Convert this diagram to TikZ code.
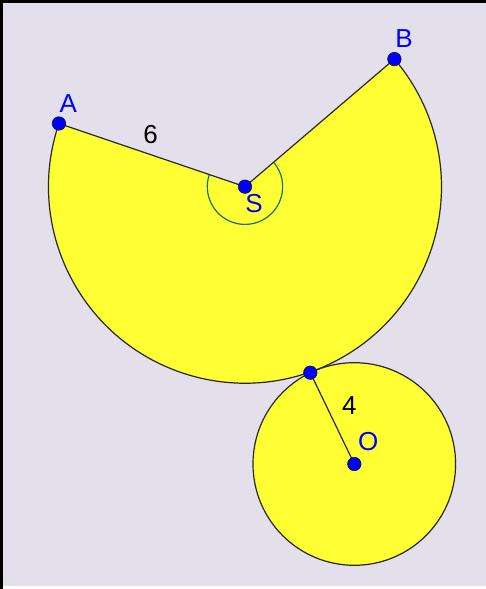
\documentclass[tikz,border=0pt]{standalone}
\usepackage{fontspec}
\setmainfont{Liberation Sans}
\usetikzlibrary{calc}
\newcommand{\lblsize}{\fontsize{26}{28}\selectfont}
\begin{document}
\begin{tikzpicture}[x=1pt,y=1pt,
  ptdot/.style={circle,fill={rgb,255:red,0;green,0;blue,255},draw={rgb,255:red,20;green,20;blue,60},line width=0.6pt,minimum size=13.5pt,inner sep=0pt},
  ptlabel/.style={text={rgb,255:red,0;green,0;blue,255},inner sep=0pt},
  lenlabel/.style={text=black,inner sep=0pt},
  edge/.style={draw={rgb,255:red,40;green,40;blue,40},line width=1.2pt},
  anglemark/.style={draw={rgb,255:red,20;green,115;blue,100},line width=1.2pt}]
\definecolor{bg}{RGB}{227,223,235}
\definecolor{yel}{RGB}{255,255,51}
\useasboundingbox (0,0) rectangle (486,589);
\fill[white] (0,0) rectangle (486,589);
\fill[bg] (0,3) rectangle (486,586);
\fill[black] (0,0) rectangle (3,589);
\fill[black] (0,586) rectangle (486,589);
% points
\coordinate (S) at (245,402.3);
\coordinate (A) at ($(S)+(161.24:196.5)$);
\coordinate (B) at ($(S)+(40.5:196.5)$);
\coordinate (O) at (354.3,125);
\coordinate (T) at (310.3,216.3);
% fills
\fill[yel] (S) -- (A) arc[start angle=161.24,end angle=400.5,radius=196.5] -- cycle;
\fill[yel] (O) circle[radius=101.3];
% angle mark
\draw[anglemark] ($(S)+(161.24:37.7)$) arc[start angle=161.24,end angle=400.5,radius=37.7];
% outlines
\draw[edge] (S) -- (A) arc[start angle=161.24,end angle=400.5,radius=196.5] -- (S);
\draw[edge] (O) circle[radius=101.3];
\draw[edge] (T) -- (O);
% dots
\node[ptdot] (nS) at (S) {};
\node[ptdot] (nA) at (A) {};
\node[ptdot] (nB) at (B) {};
\node[ptdot] (nO) at (O) {};
\node[ptdot] (nT) at (T) {};
% labels
\node[ptlabel] (lA) at (68.3,485.7) {\lblsize A};
\node[ptlabel] (lB) at (404,550.7) {\lblsize B};
\node[ptlabel] (lS) at (254,385.7) {\lblsize S};
\node[ptlabel] (lO) at (368.3,147.3) {\lblsize O};
\node[lenlabel] (l6) at (150.7,454.7) {\lblsize 6};
\node[lenlabel] (l4) at (349.3,183) {\lblsize 4};
\end{tikzpicture}
\end{document}
